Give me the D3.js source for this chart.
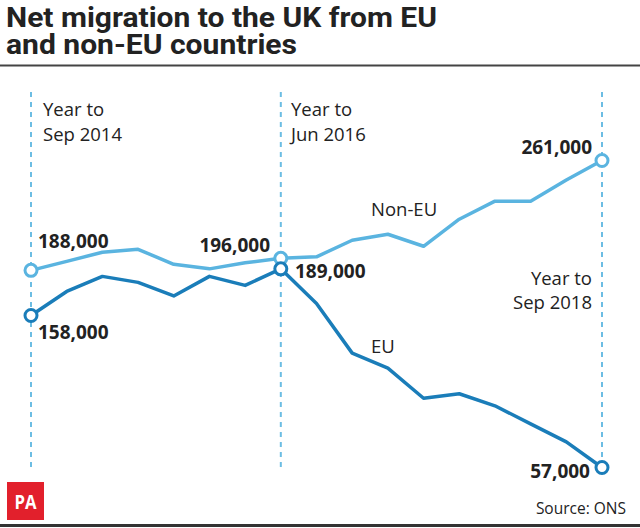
<!DOCTYPE html>
<html><head><meta charset="utf-8">
<script src="https://cdn.jsdelivr.net/npm/d3@7"></script>
<style>
html,body{margin:0;padding:0;background:#fff;}
svg{display:block;font-family:"Open Sans",sans-serif;}
</style></head>
<body>
<svg id="chart" width="640" height="528"></svg>
<script>
const quarters = ["Sep 2014","Dec 2014","Mar 2015","Jun 2015","Sep 2015","Dec 2015","Mar 2016","Jun 2016","Sep 2016","Dec 2016","Mar 2017","Jun 2017","Sep 2017","Dec 2017","Mar 2018","Jun 2018","Sep 2018"];
const nonEU = [188,194,200,202,192,189,193,196,197,208,212,204,222,234,234,248,261];
const eu = [158,174,184,180,171,184,178,189,166,133,123,103,106,98,86,74,57];
const markers = ["Sep 2014","Jun 2016","Sep 2018"];

const svg = d3.select("#chart");
const dark = "#222", cNon = "#5ab4e0", cEu = "#1a7db9";

const x = d3.scalePoint().domain(quarters).range([31, 602]);
const y = d3.scaleLinear().domain([57, 261]).range([467.5, 160.5]);

// title
const title = svg.append("g").attr("fill", dark).attr("font-weight", 700).attr("font-size", 27.5)
  .style("font-family", "Roboto, sans-serif");
title.append("text").attr("x", 6).attr("y", 27).attr("textLength", 431).attr("lengthAdjust", "spacingAndGlyphs").text("Net migration to the UK from EU");
title.append("text").attr("x", 6).attr("y", 54).attr("textLength", 291).attr("lengthAdjust", "spacingAndGlyphs").text("and non-EU countries");
svg.append("line").attr("x1", 0).attr("x2", 640).attr("y1", 65.5).attr("y2", 65.5).attr("stroke", "#444").attr("stroke-width", 2);
svg.append("line").attr("x1", 0).attr("x2", 640).attr("y1", 525.5).attr("y2", 525.5).attr("stroke", "#333").attr("stroke-width", 3);

// dashed markers
svg.append("g").selectAll("line").data(markers).join("line")
  .attr("x1", d => x(d)).attr("x2", d => x(d))
  .attr("y1", 92).attr("y2", 472)
  .attr("stroke", "#6cbde3").attr("stroke-width", 2).attr("stroke-dasharray", "5,5");

const line = d3.line().x((d, i) => x(quarters[i])).y(d => y(d));
svg.append("path").datum(nonEU).attr("d", line).attr("fill", "none").attr("stroke", cNon).attr("stroke-width", 3.5).attr("stroke-linejoin", "round");
svg.append("path").datum(eu).attr("d", line).attr("fill", "none").attr("stroke", cEu).attr("stroke-width", 3.5).attr("stroke-linejoin", "round");

// circles at marker points
const idx = markers.map(m => quarters.indexOf(m));
svg.append("g").selectAll("circle").data(idx).join("circle")
  .attr("cx", i => x(quarters[i])).attr("cy", i => y(nonEU[i])).attr("r", 6)
  .attr("fill", "#fff").attr("stroke", cNon).attr("stroke-width", 3);
svg.append("g").selectAll("circle").data(idx).join("circle")
  .attr("cx", i => x(quarters[i])).attr("cy", i => y(eu[i])).attr("r", 6)
  .attr("fill", "#fff").attr("stroke", cEu).attr("stroke-width", 3);

// value labels
const fmt = v => d3.format(",")(v * 1000);
const vl = svg.append("g").attr("fill", dark).attr("font-weight", 700).attr("font-size", 19);
vl.append("text").attr("x", 38).attr("y", 248).text(fmt(nonEU[0]));
vl.append("text").attr("x", 38).attr("y", 339).text(fmt(eu[0]));
vl.append("text").attr("x", 270).attr("y", 252).attr("text-anchor", "end").text(fmt(nonEU[7]));
vl.append("text").attr("x", 295).attr("y", 278).text(fmt(eu[7]));
vl.append("text").attr("x", 592).attr("y", 154).attr("text-anchor", "end").text(fmt(nonEU[16]));
vl.append("text").attr("x", 590).attr("y", 478).attr("text-anchor", "end").text(fmt(eu[16]));

// annotations
const an = svg.append("g").attr("fill", dark).attr("font-size", 18.5);
an.append("text").attr("x", 43).attr("y", 116).text("Year to");
an.append("text").attr("x", 43).attr("y", 141).text("Sep 2014");
an.append("text").attr("x", 291).attr("y", 116).text("Year to");
an.append("text").attr("x", 291).attr("y", 141).text("Jun 2016");
an.append("text").attr("x", 592).attr("y", 285).attr("text-anchor", "end").text("Year to");
an.append("text").attr("x", 592).attr("y", 309).attr("text-anchor", "end").text("Sep 2018");
an.append("text").attr("x", 371).attr("y", 216).text("Non-EU");
an.append("text").attr("x", 371).attr("y", 353).text("EU");

svg.append("text").attr("x", 626).attr("y", 514).attr("text-anchor", "end").attr("font-size", 15.5).attr("fill", dark).text("Source: ONS");

// PA logo
svg.append("rect").attr("x", 7).attr("y", 482).attr("width", 37).attr("height", 38).attr("fill", "#e2202c");
svg.append("text").attr("x", 25.5).attr("y", 509).attr("text-anchor", "middle").attr("fill", "#fff").attr("font-weight", 700).attr("font-size", 20).attr("textLength", 22).attr("lengthAdjust", "spacingAndGlyphs").text("PA");
</script>
</body></html>
